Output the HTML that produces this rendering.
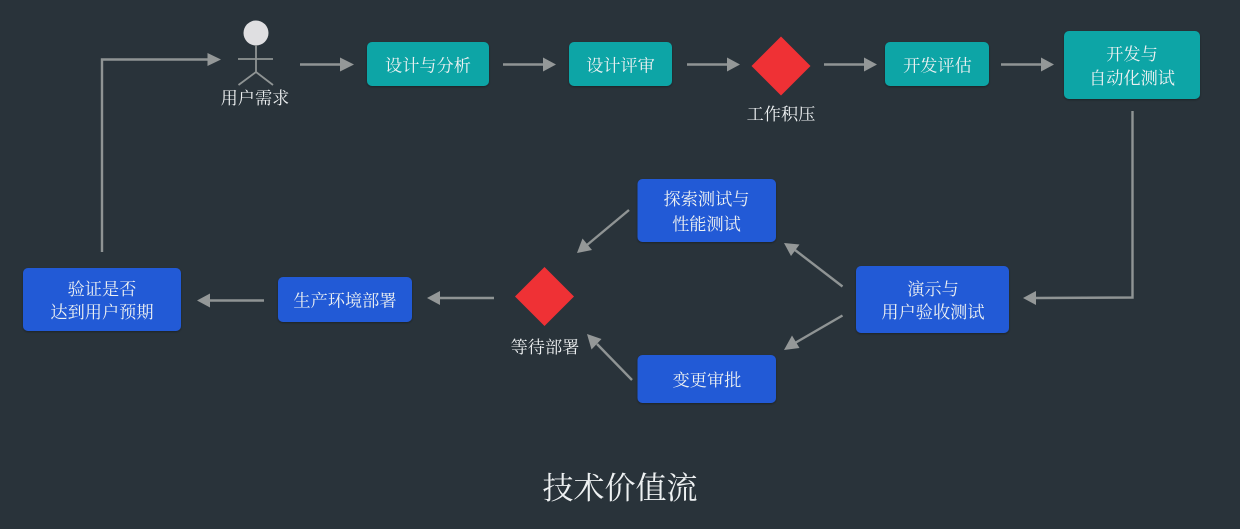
<!DOCTYPE html>
<html lang="zh">
<head>
<meta charset="utf-8">
<style>
html,body{margin:0;padding:0;background:#29333a;width:1240px;height:529px;overflow:hidden}
svg{display:block}
text{font-family:"Liberation Serif","Noto Serif CJK SC",serif;fill:#eef1f2;text-anchor:middle;font-size:17.2px}
.l{stroke:#8f9494;stroke-width:2.4;fill:none}
.h{fill:#949898;stroke:none}
.t{fill:#09a5a6}
.b{fill:#235ad6}
.d{fill:#ef3135}
</style>
</head>
<body>
<svg width="1240" height="529" viewBox="0 0 1240 529" xmlns="http://www.w3.org/2000/svg">
<defs>
<filter id="s" x="-10%" y="-10%" width="120%" height="125%"><feDropShadow dx="0" dy="1" stdDeviation="1" flood-color="#000" flood-opacity=".35"/></filter>
<filter id="soft" x="-10%" y="-10%" width="120%" height="120%"><feGaussianBlur stdDeviation="0.35"/></filter>
</defs>
<rect width="1240" height="529" fill="#29333a"/>

<!-- boxes -->
<g filter="url(#s)">
<rect class="t" x="367" y="42" width="122" height="44" rx="5"/>
<rect class="t" x="569" y="42" width="103" height="44" rx="5"/>
<rect class="t" x="885" y="42" width="104" height="44" rx="5"/>
<rect class="t" x="1064" y="31" width="136" height="68" rx="5"/>
<rect class="b" x="637.500" y="179" width="138.500" height="63" rx="5"/>
<rect class="b" x="637.500" y="355" width="138.500" height="48" rx="5"/>
<rect class="b" x="856" y="266" width="153" height="67" rx="5"/>
<rect class="b" x="278" y="277" width="134" height="45" rx="5"/>
<rect class="b" x="23" y="268" width="158" height="63" rx="5"/>
</g>

<!-- diamonds -->
<polygon class="d" points="781,36.500 810.500,66 781,95.500 751.500,66"/>
<polygon class="d" points="544.500,267 574,296.500 544.500,326 515,296.500"/>

<!-- actor -->
<circle cx="256" cy="33" r="12.500" fill="#dfdfe1"/>
<path class="l" d="M256 45V72M238 59H273M256 72L238.500 85M256 72L273 85" style="stroke-width:1.800"/>

<!-- connectors -->
<g filter="url(#soft)">
<path class="l" d="M102 252V59.500H209"/>
<polygon class="h" points="221,59.500 207.500,53 207.500,66"/>

<path class="l" d="M300 64.500H341"/>
<polygon class="h" points="354,64.500 340,57.500 340,71.500"/>
<path class="l" d="M503 64.500H543"/>
<polygon class="h" points="556,64.500 543,57.500 543,71.500"/>
<path class="l" d="M687 64.500H727"/>
<polygon class="h" points="740,64.500 727,57.500 727,71.500"/>
<path class="l" d="M824 64.500H864"/>
<polygon class="h" points="877,64.500 864,57.500 864,71.500"/>
<path class="l" d="M1001 64.500H1041"/>
<polygon class="h" points="1054,64.500 1041,57.500 1041,71.500"/>

<path class="l" d="M1132.500 111V297.500L1036 298"/>
<polygon class="h" points="1023,298 1036,291 1036,305"/>

<path class="l" d="M842.500 286.500L795 250"/>
<polygon class="h" points="784,243 799.500,244.500 791,256"/>
<path class="l" d="M842.500 315.500L795 343"/>
<polygon class="h" points="784,350 792,335.500 799.500,348"/>
<path class="l" d="M629 210L587 245"/>
<polygon class="h" points="577,253 582.500,238.500 592,250"/>
<path class="l" d="M632 380L597 344"/>
<polygon class="h" points="587,334 601.500,339 591.500,349.500"/>

<path class="l" d="M494 298H439"/>
<polygon class="h" points="427,298 440,291 440,305"/>
<path class="l" d="M264 300.500H209"/>
<polygon class="h" points="197,300.500 210,293.500 210,307.500"/>
</g>

<!-- labels -->
<text x="428" y="71.500">设计与分析</text>
<text x="620.500" y="71.500">设计评审</text>
<text x="937.500" y="71.500">开发评估</text>
<text x="1132" y="60">开发与</text>
<text x="1132" y="84">自动化测试</text>
<text x="706.500" y="205">探索测试与</text>
<text x="706.500" y="230">性能测试</text>
<text x="707" y="386">变更审批</text>
<text x="933" y="295">演示与</text>
<text x="933" y="318">用户验收测试</text>
<text x="345" y="306.500">生产环境部署</text>
<text x="102" y="295">验证是否</text>
<text x="102" y="318">达到用户预期</text>
<text x="255" y="104">用户需求</text>
<text x="781" y="120">工作积压</text>
<text x="545" y="353">等待部署</text>
<text x="620" y="499" style="font-size:31px">技术价值流</text>
</svg>
</body>
</html>
